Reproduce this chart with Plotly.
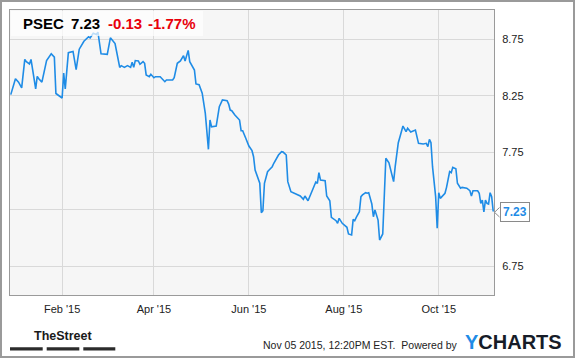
import plotly.graph_objects as go

ticker = "PSEC"
last_price = 7.23
change = "-0.13"
change_pct = "-1.77%"

dates = [
    "2014-12-30", "2015-01-02", "2015-01-04", "2015-01-06", "2015-01-08", "2015-01-09",
    "2015-01-11", "2015-01-12", "2015-01-15", "2015-01-16", "2015-01-17", "2015-01-19",
    "2015-01-22", "2015-01-25", "2015-01-27", "2015-01-28", "2015-01-30", "2015-02-01",
    "2015-02-02", "2015-02-03", "2015-02-05", "2015-02-08", "2015-02-10", "2015-02-12",
    "2015-02-15", "2015-02-18", "2015-02-19", "2015-02-21", "2015-02-23", "2015-02-24",
    "2015-02-26", "2015-02-28", "2015-03-02", "2015-03-04", "2015-03-07", "2015-03-08",
    "2015-03-10", "2015-03-11", "2015-03-13", "2015-03-15", "2015-03-17", "2015-03-18",
    "2015-03-19", "2015-03-20", "2015-03-22", "2015-03-23", "2015-03-25", "2015-03-26",
    "2015-03-27", "2015-03-29", "2015-03-30", "2015-04-01", "2015-04-02", "2015-04-05",
    "2015-04-06", "2015-04-08", "2015-04-09", "2015-04-13", "2015-04-14", "2015-04-16",
    "2015-04-18", "2015-04-20", "2015-04-21", "2015-04-23", "2015-04-24", "2015-04-27",
    "2015-04-28", "2015-04-30", "2015-05-02", "2015-05-04", "2015-05-06", "2015-05-07",
    "2015-05-08", "2015-05-11", "2015-05-13", "2015-05-15", "2015-05-18", "2015-05-19",
    "2015-05-20", "2015-05-21", "2015-05-23", "2015-05-26", "2015-05-27", "2015-05-28",
    "2015-05-30", "2015-06-01", "2015-06-03", "2015-06-04", "2015-06-05", "2015-06-08",
    "2015-06-09", "2015-06-10", "2015-06-11", "2015-06-13", "2015-06-14", "2015-06-16",
    "2015-06-17", "2015-06-18", "2015-06-20", "2015-06-22", "2015-06-23", "2015-06-25",
    "2015-06-26", "2015-06-28", "2015-07-04", "2015-07-06", "2015-07-07", "2015-07-09",
    "2015-07-11", "2015-07-13", "2015-07-14", "2015-07-15", "2015-07-16", "2015-07-17",
    "2015-07-20", "2015-07-21", "2015-07-23", "2015-07-24", "2015-07-27", "2015-07-28",
    "2015-07-29", "2015-07-31", "2015-08-03", "2015-08-04", "2015-08-06", "2015-08-07",
    "2015-08-08", "2015-08-09", "2015-08-11", "2015-08-12", "2015-08-13", "2015-08-15",
    "2015-08-16", "2015-08-17", "2015-08-19", "2015-08-20", "2015-08-21", "2015-08-23",
    "2015-08-24", "2015-08-26", "2015-08-28", "2015-08-30", "2015-09-02", "2015-09-03",
    "2015-09-05", "2015-09-06", "2015-09-08", "2015-09-10", "2015-09-11", "2015-09-13",
    "2015-09-16", "2015-09-18", "2015-09-21", "2015-09-23", "2015-09-24", "2015-09-25",
    "2015-09-26", "2015-09-27", "2015-09-29", "2015-09-30", "2015-10-01", "2015-10-02",
    "2015-10-05", "2015-10-06", "2015-10-08", "2015-10-09", "2015-10-10", "2015-10-12",
    "2015-10-13", "2015-10-15", "2015-10-16", "2015-10-19", "2015-10-21", "2015-10-22",
    "2015-10-23", "2015-10-26", "2015-10-27", "2015-10-28", "2015-10-29", "2015-10-30",
    "2015-10-31", "2015-11-01", "2015-11-02", "2015-11-03", "2015-11-04", "2015-11-05",
]

prices = [
    8.26, 8.40, 8.37, 8.32, 8.57, 8.55,
    8.53, 8.57, 8.31, 8.42, 8.40, 8.37,
    8.56, 8.62, 8.59, 8.27, 8.25, 8.23,
    8.45, 8.31, 8.63, 8.64, 8.48, 8.66,
    8.73, 8.77, 8.76, 8.80, 8.79, 8.81,
    8.62, 8.615, 8.615, 8.76, 8.71, 8.64,
    8.50, 8.515, 8.50, 8.515, 8.50, 8.545,
    8.50, 8.56, 8.556, 8.527, 8.55, 8.536,
    8.433, 8.418, 8.439, 8.409, 8.418, 8.418,
    8.404, 8.374, 8.389, 8.389, 8.409, 8.536,
    8.556, 8.603, 8.556, 8.65, 8.55, 8.477,
    8.354, 8.347, 8.272, 8.095, 7.778, 8.036,
    7.977, 7.983, 8.154, 8.213, 8.206, 8.177,
    8.124, 8.118, 8.08, 8.036, 7.942, 7.942,
    7.875, 7.807, 7.766, 7.713, 7.596, 7.479,
    7.22, 7.237, 7.479, 7.581, 7.596, 7.625,
    7.655, 7.684, 7.728, 7.757, 7.754, 7.728,
    7.493, 7.405, 7.367, 7.338, 7.367, 7.325,
    7.391, 7.464, 7.49, 7.479, 7.572, 7.508,
    7.502, 7.367, 7.325, 7.179, 7.149, 7.126,
    7.17, 7.126, 7.091, 7.032, 7.023, 7.161,
    7.149, 7.179, 7.228, 7.361, 7.376, 7.396,
    7.391, 7.396, 7.296, 7.184, 7.243, 7.155,
    6.979, 7.032, 7.699, 7.66, 7.493, 7.625,
    7.836, 7.884, 7.983, 7.933, 7.963, 7.931,
    7.948, 7.831, 7.825, 7.831, 7.801, 7.866,
    7.836, 7.625, 7.361, 7.082, 7.396, 7.346,
    7.391, 7.443, 7.581, 7.572, 7.62, 7.607,
    7.479, 7.435, 7.443, 7.435, 7.413, 7.367,
    7.413, 7.413, 7.391, 7.302, 7.331, 7.226,
    7.331, 7.302, 7.296, 7.396, 7.361, 7.23,
]

x_tick_vals = ["2015-02-01", "2015-04-01", "2015-06-01", "2015-08-01", "2015-10-01"]
x_tick_text = ["Feb '15", "Apr '15", "Jun '15", "Aug '15", "Oct '15"]
y_tick_vals = [6.75, 7.25, 7.75, 8.25, 8.75]
# the 7.25 label sits under the last-price tag in the reference
y_tick_text = ["6.75", "", "7.75", "8.25", "8.75"]

W, H = 575, 358
L, R, T, B = 10, 81, 10, 63
PW, PH = W - L - R, H - T - B


def px(x):
    return (x - L) / PW


def py(y):
    return (H - B - y) / PH


FONT = "Liberation Sans, Arial, sans-serif"
BLUE = "#1f8ce6"

fig = go.Figure()
fig.add_trace(go.Scatter(
    x=dates, y=prices, mode="lines",
    line=dict(color=BLUE, width=1.6),
    hoverinfo="skip", showlegend=False,
))

shapes = [
    dict(type="rect", xref="paper", yref="paper", x0=px(1), x1=px(574), y0=py(1), y1=py(357),
         line=dict(color="#9a9a9a", width=2), fillcolor="rgba(0,0,0,0)", layer="above"),
    dict(type="rect", xref="paper", yref="paper", x0=px(11), x1=px(203), y0=py(11), y1=py(36),
         line=dict(width=0), fillcolor="rgba(255,255,255,0.7)", layer="above"),
    dict(type="path", xref="paper", yref="paper",
         path=f"M {px(499.5)} {py(207.5)} L {px(494.5)} {py(212.3)} L {px(499.5)} {py(217)}",
         line=dict(color="#8a8a8a", width=1), fillcolor="white", layer="above"),
]
for x0, x1 in [(10, 42.7), (46.7, 79.3), (83.3, 115.3)]:
    shapes.append(dict(type="rect", xref="paper", yref="paper", x0=px(x0), x1=px(x1),
                       y0=py(347.3), y1=py(350.4), line=dict(width=0), fillcolor="#2b2b2b"))

annotations = []
hdr = [(ticker, 21.5, "#000"), (f"{last_price:.2f}", 69.8, "#000"),
       (change, 106.5, "#e8000b"), (change_pct, 146.5, "#e8000b")]
for txt, x, col in hdr:
    annotations.append(dict(text=f"<b>{txt}</b>", xref="paper", yref="paper", x=px(x), y=py(23.8),
                            xanchor="left", yanchor="middle", showarrow=False,
                            font=dict(family=FONT, size=15, color=col), borderpad=0))

annotations.append(dict(text=f"<b>{last_price:.2f}</b>", xref="paper", yref="y", x=px(499.5), y=last_price,
                        xanchor="left", yanchor="middle", showarrow=False,
                        font=dict(family=FONT, size=12, color=BLUE),
                        bgcolor="white", bordercolor="#8a8a8a", borderwidth=1, borderpad=2))

annotations.append(dict(text="<b>TheStreet</b>", xref="paper", yref="paper", x=px(63.3), y=py(335.5),
                        xanchor="center", yanchor="middle", showarrow=False,
                        font=dict(family=FONT, size=12.5, color="#1a1a1a")))
annotations.append(dict(text="Nov 05 2015, 12:20PM EST.  Powered by", xref="paper", yref="paper",
                        x=px(459.5), y=py(344.5), xanchor="right", yanchor="middle", showarrow=False,
                        font=dict(family=FONT, size=10.5, color="#222")))
annotations.append(dict(text=f"<b><span style='color:{BLUE}'>Y</span>CHARTS</b>", xref="paper", yref="paper",
                        x=px(463), y=py(341.5), xanchor="left", yanchor="middle", showarrow=False,
                        font=dict(family=FONT, size=20, color="#161c28")))

fig.update_layout(
    width=W, height=H,
    margin=dict(l=L, r=R, t=T, b=B, pad=0),
    paper_bgcolor="white", plot_bgcolor="#f6f6f6",
    shapes=shapes, annotations=annotations,
    showlegend=False,
    xaxis=dict(type="date", range=["2014-12-29 12:00", "2015-11-05 12:00"],
               tickvals=x_tick_vals, ticktext=x_tick_text,
               showgrid=True, gridcolor="#d9d9d9", gridwidth=1, zeroline=False,
               showline=True, linecolor="#9a9a9a", linewidth=1, mirror=True,
               ticks="", ticklabelstandoff=4,
               tickfont=dict(family=FONT, size=11, color="#222"), fixedrange=True),
    yaxis=dict(range=[6.4945, 9.0055], side="right",
               tickvals=y_tick_vals, ticktext=y_tick_text,
               showgrid=True, gridcolor="#d9d9d9", gridwidth=1, zeroline=False,
               showline=True, linecolor="#9a9a9a", linewidth=1, mirror=True,
               ticks="", ticklabelstandoff=5,
               tickfont=dict(family=FONT, size=11, color="#222"), fixedrange=True),
)

fig.write_html("out.html", config={"displayModeBar": False})
